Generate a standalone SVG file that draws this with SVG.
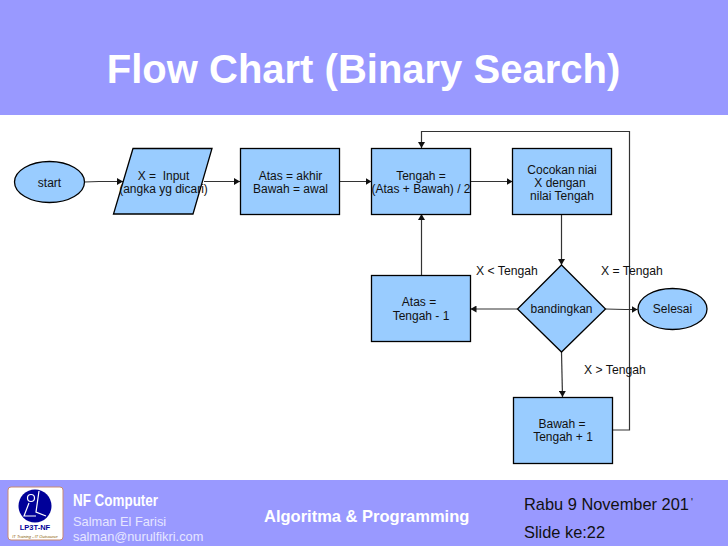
<svg xmlns="http://www.w3.org/2000/svg" width="728" height="546" viewBox="0 0 728 546">
<style>
.n{fill:#99ccff;stroke:#000;stroke-width:1.3}
.c{fill:none;stroke:#333;stroke-width:1.2}
.t{font-family:"Liberation Sans",Arial,sans-serif;font-size:12px;fill:#111;text-anchor:middle;white-space:pre}
.l{font-family:"Liberation Sans",Arial,sans-serif;font-size:12.200px;fill:#111}
.f{font-family:"Liberation Sans",Arial,sans-serif}
</style>
<defs>
<marker id="a" markerUnits="userSpaceOnUse" markerWidth="7" markerHeight="7" refX="6" refY="3.500" orient="auto"><path d="M0 0L6 3.500L0 7Z" fill="#111"/></marker>
</defs>
<rect width="728" height="546" fill="#fff"/>
<rect id="header" width="728" height="115" fill="#9999ff"/>
<rect id="footer" y="480" width="728" height="66" fill="#9999ff"/>
<text class="f" x="363.500" y="83" font-size="40" font-weight="bold" fill="#fff" text-anchor="middle">Flow Chart (Binary Search)</text>
<g id="connectors">
<path class="c" marker-end="url(#a)" d="M84.500 182L99 181.500H123"/>
<path class="c" marker-end="url(#a)" d="M204 181.500H240"/>
<path class="c" marker-end="url(#a)" d="M339.500 181.500H371.500"/>
<path class="c" marker-end="url(#a)" d="M470.500 181.500H512.500"/>
<path class="c" marker-end="url(#a)" d="M561.500 214V265"/>
<path class="c" marker-end="url(#a)" d="M421.500 275.500V214"/>
<path class="c" marker-end="url(#a)" d="M517 309H470.500"/>
<path class="c" marker-end="url(#a)" d="M605.500 309L625 309.500H637.500"/>
<path class="c" marker-end="url(#a)" d="M561.500 352L562.500 397"/>
<path class="c" marker-end="url(#a)" d="M613 430H629.500V131.500H421.500V148"/>
</g>
<g id="start"><ellipse class="n" cx="49.500" cy="182" rx="35" ry="20.500"/><text class="t" x="49.500" y="187">start</text></g>
<g id="input"><path class="n" d="M133 148.500H212L193 214H113.500Z"/><text class="t" x="163.500" y="180">X =  Input</text><text class="t" x="163.500" y="193">(angka yg dicari)</text></g>
<g id="init"><rect class="n" x="240.500" y="148.500" width="99" height="66"/><text class="t" x="290.500" y="180">Atas = akhir</text><text class="t" x="290.500" y="193">Bawah = awal</text></g>
<g id="tengah"><rect class="n" x="371.500" y="148.500" width="99" height="66"/><text class="t" x="421" y="180">Tengah =</text><text class="t" x="421" y="193">(Atas + Bawah) / 2</text></g>
<g id="cocokan"><rect class="n" x="512.500" y="148.500" width="99" height="66"/><text class="t" x="562" y="174">Cocokan niai</text><text class="t" x="560" y="187">X dengan</text><text class="t" x="562" y="200">nilai Tengah</text></g>
<g id="atas"><rect class="n" x="371.500" y="275.500" width="99" height="66"/><text class="t" x="419" y="306">Atas =</text><text class="t" x="421" y="320">Tengah - 1</text></g>
<g id="bandingkan"><path class="n" d="M561.500 265L605.500 309L561.500 352L517.500 309Z"/><text class="t" x="561.500" y="313">bandingkan</text></g>
<g id="selesai"><ellipse class="n" cx="672.500" cy="309" rx="34.500" ry="20.500"/><text class="t" x="672.500" y="313">Selesai</text></g>
<g id="bawah"><rect class="n" x="513.500" y="397.500" width="99" height="66"/><text class="t" x="562" y="428">Bawah =</text><text class="t" x="563" y="441">Tengah + 1</text></g>
<text class="l" x="476" y="275">X &lt; Tengah</text>
<text class="l" x="601" y="275">X = Tengah</text>
<text class="l" x="584" y="374">X &gt; Tengah</text>
<g id="logo">
<rect x="8" y="487" width="55" height="53" rx="3" fill="#fff" stroke="#c98a70" stroke-width="1"/>
<circle cx="35" cy="506" r="16.500" fill="#000099"/>
<circle cx="31" cy="498" r="3.500" fill="none" stroke="#fff" stroke-width="1.200"/>
<path d="M39 491L36 512L46 516M29 503L24 516H36" fill="none" stroke="#fff" stroke-width="1.200"/>
<text class="f" x="35" y="530" font-size="7.500" font-weight="bold" fill="#000099" text-anchor="middle">LP3T-NF</text>
<text class="f" x="35" y="538" font-size="4" font-style="italic" fill="#8a5a00" text-anchor="middle">IT Training - IT Outsource</text>
</g>
<text class="f" x="73" y="506" font-size="17" font-weight="bold" fill="#fff" textLength="85" lengthAdjust="spacingAndGlyphs">NF Computer</text>
<text class="f" x="73" y="526" font-size="12.800" fill="#e6e6ff">Salman El Farisi</text>
<text class="f" x="73" y="541" font-size="12.800" fill="#e6e6ff">salman@nurulfikri.com</text>
<text class="f" x="264" y="522" font-size="16.500" font-weight="bold" fill="#fff">Algoritma &amp; Programming</text>
<text class="f" x="524" y="510" font-size="16.400" fill="#111">Rabu 9 November 201</text>
<text class="f" x="691" y="506" font-size="10" fill="#111">'</text>
<text class="f" x="524" y="538" font-size="16.400" fill="#111">Slide ke:22</text>
</svg>
